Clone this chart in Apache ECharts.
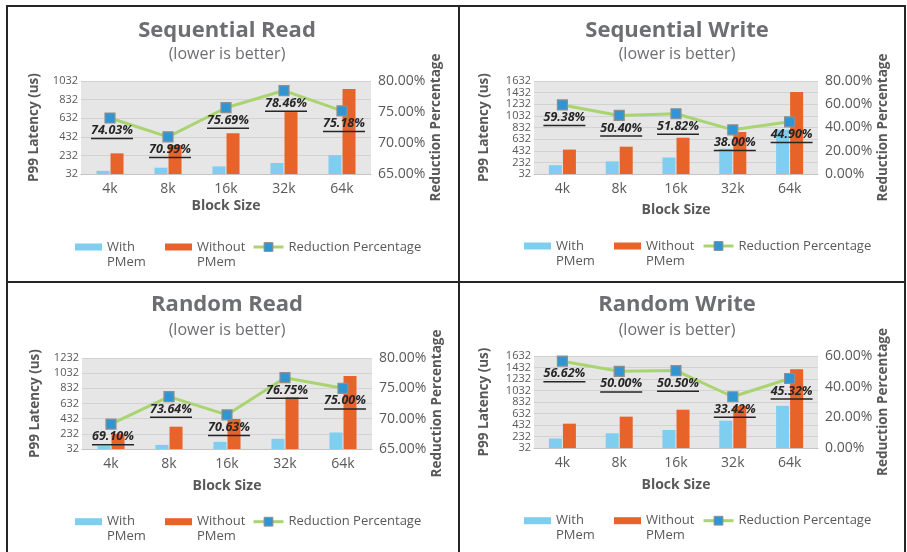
<!DOCTYPE html>
<html>
<head>
<meta charset="utf-8">
<script src="https://cdn.jsdelivr.net/npm/echarts@6/dist/echarts.min.js"></script>
<style>
  html, body { margin: 0; padding: 0; background: #ffffff; }
  #wrap { position: relative; width: 907px; height: 552px; overflow: hidden; }
  #chart { position: absolute; left: 0; top: 0; width: 907px; height: 552px; }
  .rule { position: absolute; background: #262626; pointer-events: none; }
</style>
</head>
<body>
<div id="wrap">
  <div id="chart"></div>
  <!-- panel frame -->
  <div class="rule" style="left:6px;top:5px;width:900px;height:2px"></div>
  <div class="rule" style="left:6px;top:281px;width:900px;height:2px"></div>
  <div class="rule" style="left:6px;top:5px;width:2px;height:560px"></div>
  <div class="rule" style="left:458px;top:5px;width:2px;height:560px"></div>
  <div class="rule" style="left:904px;top:5px;width:2px;height:560px"></div>
</div>
<script>
// Block sizes on the x axis
const categories = ['4k', '8k', '16k', '32k', '64k'];

// P99 latency (us) and reduction (%)
const seqReadWith = [66, 100, 114, 150, 235];
const seqReadWithout = [254, 344, 470, 698, 946];
const seqReadReduction = [74.03, 70.99, 75.69, 78.46, 75.18];

const seqWriteWith = [183, 249, 316, 467, 795];
const seqWriteWithout = [452, 502, 656, 754, 1442];
const seqWriteReduction = [59.38, 50.40, 51.82, 38.00, 44.90];

const randReadWith = [72, 86, 126, 166, 249];
const randReadWithout = [233, 326, 428, 715, 995];
const randReadReduction = [69.10, 73.64, 70.63, 76.75, 75.00];

const randWriteWith = [197, 288, 345, 507, 766];
const randWriteWithout = [455, 577, 698, 761, 1400];
const randWriteReduction = [56.62, 50.00, 50.50, 33.42, 45.32];

// Latency axis tick labels
const seqReadTicks = [32, 232, 432, 632, 832, 1032];
const seqWriteTicks = [32, 232, 432, 632, 832, 1032, 1232, 1432, 1632];
const randReadTicks = [32, 232, 432, 632, 832, 1032, 1232];
const randWriteTicks = [32, 232, 432, 632, 832, 1032, 1232, 1432, 1632];

// Reduction axis ranges [min, max, step]
const seqReadPct = [65, 80, 5];
const seqWritePct = [0, 80, 20];
const randReadPct = [65, 80, 5];
const randWritePct = [0, 60, 20];

const FONT = 'Open Sans';
const GREY = '#595959';
const TITLE_GREY = '#6d6e71';
const BLUE = '#7fcdef';
const ORANGE = '#e8632a';
const GREEN = '#a9d46f';
const MARKER = '#2f95d3';

const option = {
  animation: false,
  textStyle: { fontFamily: FONT },
  title: [], legend: [], grid: [], xAxis: [], yAxis: [], series: []
};

function addPanel(p) {
  const gi = option.grid.length;
  option.title.push({
    text: p.title, left: p.cx, top: p.titleY - 12, textAlign: 'center', padding: 0,
    textStyle: { fontFamily: FONT, fontSize: 22, fontWeight: 'bold', color: TITLE_GREY, lineHeight: 24 }
  });
  option.title.push({
    text: '(lower is better)', left: p.cx, top: p.subY - 9, textAlign: 'center', padding: 0,
    textStyle: { fontFamily: FONT, fontSize: 16, fontWeight: 'normal', color: TITLE_GREY, lineHeight: 18 }
  });
  option.grid.push({
    left: p.grid[0], top: p.grid[1], width: p.grid[2], height: p.grid[3],
    show: true, backgroundColor: '#e6e6e7', borderWidth: 0
  });
  option.xAxis.push({
    gridIndex: gi, type: 'category', data: categories,
    axisTick: { show: false },
    axisLine: { lineStyle: { color: '#c4c4c4', width: 1 } },
    axisLabel: { color: GREY, fontSize: 14, margin: 8 },
    name: 'Block Size', nameLocation: 'middle', nameGap: p.xNameGap,
    nameTextStyle: { color: GREY, fontSize: 14, fontWeight: 'bold' }
  });
  const ticks = p.ticks;
  option.yAxis.push({
    gridIndex: gi, type: 'value', min: ticks[0], max: ticks[ticks.length - 1],
    axisLine: { show: false },
    axisTick: { show: false, customValues: ticks },
    axisLabel: { customValues: ticks, color: GREY, fontSize: 11, margin: 3, formatter: v => String(v) },
    splitLine: { lineStyle: { color: '#d2d2d3', width: 1 } },
    name: 'P99 Latency (us)', nameLocation: 'middle', nameGap: p.leftNameGap, nameRotate: 90,
    nameTextStyle: { color: GREY, fontSize: 13.5, fontWeight: 'bold' }
  });
  const leftAxis = option.yAxis.length - 1;
  option.yAxis.push({
    gridIndex: gi, type: 'value', position: 'right',
    min: p.pct[0], max: p.pct[1], interval: p.pct[2],
    axisLine: { show: false }, axisTick: { show: false }, splitLine: { show: false },
    axisLabel: { color: GREY, fontSize: 14, margin: 7, formatter: v => v.toFixed(2) + '%' },
    name: 'Reduction Percentage', nameLocation: 'middle', nameGap: p.rightNameGap, nameRotate: 90,
    nameTextStyle: { color: GREY, fontSize: 13.5, fontWeight: 'bold' }
  });
  const rightAxis = option.yAxis.length - 1;

  option.series.push({
    name: 'With PMem', type: 'bar', xAxisIndex: gi, yAxisIndex: leftAxis,
    data: p.withData, barWidth: 13, barGap: '8%', itemStyle: { color: BLUE }
  });
  option.series.push({
    name: 'Without PMem', type: 'bar', xAxisIndex: gi, yAxisIndex: leftAxis,
    data: p.withoutData, barWidth: 13, barGap: '8%', itemStyle: { color: ORANGE }
  });
  option.series.push({
    name: 'Reduction Percentage', type: 'line', xAxisIndex: gi, yAxisIndex: rightAxis,
    data: p.reduction, z: 5,
    symbol: 'rect', symbolSize: 10,
    lineStyle: { color: GREEN, width: 3 },
    itemStyle: { color: MARKER, borderColor: '#8f8f8f', borderWidth: 1.2 },
    label: {
      show: true, position: 'bottom', distance: 0, offset: [2, 0],
      formatter: d => '{v|' + d.value.toFixed(2) + '%}\n{u| }',
      rich: {
        v: { fontFamily: FONT, fontSize: 12.5, fontWeight: 'bold', fontStyle: 'italic', color: '#262626', lineHeight: 14 },
        u: { width: 42, height: 1.5, lineHeight: 2, fontSize: 1, backgroundColor: '#262626' }
      }
    }
  });

  // legend: two wrapped bar entries (first line beside the swatch) and the line entry
  const legendText = { color: GREY, fontSize: 13, lineHeight: 15, fontFamily: FONT };
  option.legend.push({
    data: ['With PMem'], left: p.legX[0], top: p.legY - 22.5, padding: 0,
    icon: 'rect', itemWidth: 27, itemHeight: 7, selectedMode: false,
    formatter: () => '\u00a0\nWith\nPMem', textStyle: legendText
  });
  option.legend.push({
    data: ['Without PMem'], left: p.legX[1], top: p.legY - 22.5, padding: 0,
    icon: 'rect', itemWidth: 27, itemHeight: 7, selectedMode: false,
    formatter: () => '\u00a0\nWithout\nPMem', textStyle: legendText
  });
  option.legend.push({
    data: ['Reduction Percentage'], left: p.legX[2], top: p.legY - 7.5, padding: 0,
    itemWidth: 30, itemHeight: 11, selectedMode: false,
    lineStyle: { width: 3 },
    itemStyle: { borderColor: '#8f8f8f', borderWidth: 1 },
    textStyle: legendText
  });
}

addPanel({
  title: 'Sequential Read', cx: 227, titleY: 31, subY: 54,
  grid: [81, 81, 290, 93], ticks: seqReadTicks, pct: seqReadPct,
  withData: seqReadWith, withoutData: seqReadWithout, reduction: seqReadReduction,
  xNameGap: 25, leftNameGap: 40, rightNameGap: 54, legX: [75, 165, 252], legY: 247
});
addPanel({
  title: 'Sequential Write', cx: 677, titleY: 31, subY: 54,
  grid: [534, 81, 284, 93], ticks: seqWriteTicks, pct: seqWritePct,
  withData: seqWriteWith, withoutData: seqWriteWithout, reduction: seqWriteReduction,
  xNameGap: 29, leftNameGap: 43, rightNameGap: 54, legX: [524, 614, 702], legY: 246
});
addPanel({
  title: 'Random Read', cx: 227, titleY: 305, subY: 330,
  grid: [82, 358, 290, 91], ticks: randReadTicks, pct: randReadPct,
  withData: randReadWith, withoutData: randReadWithout, reduction: randReadReduction,
  xNameGap: 30, leftNameGap: 40, rightNameGap: 54, legX: [75, 165, 252], legY: 521.7
});
addPanel({
  title: 'Random Write', cx: 677, titleY: 305, subY: 330,
  grid: [534, 356, 284, 92], ticks: randWriteTicks, pct: randWritePct,
  withData: randWriteWith, withoutData: randWriteWithout, reduction: randWriteReduction,
  xNameGap: 30, leftNameGap: 43, rightNameGap: 55, legX: [524, 614, 702], legY: 520.7
});

const chart = echarts.init(document.getElementById('chart'), null, { renderer: 'canvas' });
chart.setOption(option);
</script>
</body>
</html>
